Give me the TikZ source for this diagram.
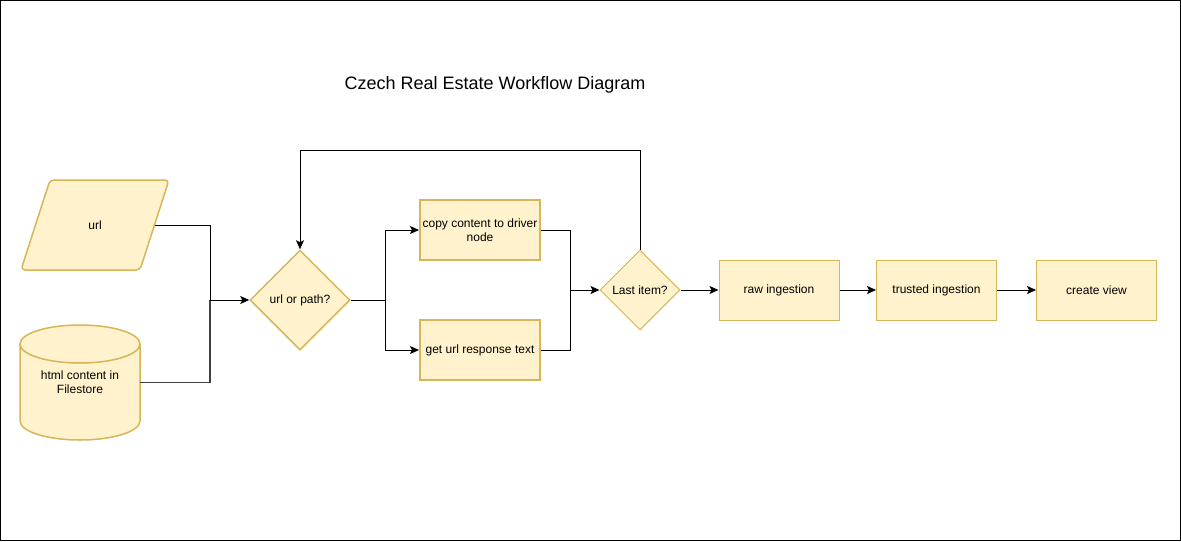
\documentclass[tikz,border=0pt]{standalone}
\usepackage{fontspec}
\setmainfont{Liberation Sans}
\usetikzlibrary{shapes.geometric,arrows.meta}
\definecolor{yfill}{HTML}{FFF2CC}
\definecolor{ydraw}{HTML}{D6B656}
\tikzset{
  lbl/.style={font=\fontsize{12}{14}\selectfont, text=black},
  box/.style={draw=ydraw, fill=yfill, line width=1pt, minimum width=120, minimum height=60, inner sep=0, lbl, align=center},
  boxthick/.style={box, line width=2pt},
  dia/.style={diamond, draw=ydraw, fill=yfill, inner sep=0, aspect=1},
  conn/.style={draw=black, line width=1pt},
  arr/.style={conn, -{Stealth[length=9pt,width=8pt,inset=2pt]}},
}
\begin{document}
\begin{tikzpicture}[x=1pt,y=-1pt]
\useasboundingbox (0,0) rectangle (1181,541);
\draw[black, line width=1pt] (0.5,0.5) rectangle (1180,540);
\node[font=\fontsize{18}{21}\selectfont] (title) at (495,85) {Czech Real Estate Workflow Diagram};
% url parallelogram
\draw[draw=ydraw, fill=yfill, line width=1.5pt, rounded corners=4] (50,180) -- (169,180) -- (140,270) -- (21,270) -- cycle;
\node[lbl] (url) at (95,225) {url};
\coordinate (urlr) at (154.5,225);
% cylinder
\draw[draw=ydraw, fill=yfill, line width=1.5pt] (20,344) -- (20,421) arc[start angle=180, end angle=0, x radius=60, y radius=19] -- (140,344) arc[start angle=0, end angle=-180, x radius=60, y radius=19] -- cycle;
\draw[draw=ydraw, line width=1.5pt] (20,344) arc[start angle=180, end angle=0, x radius=60, y radius=19];
\node[lbl, align=center, minimum width=120, minimum height=115, inner sep=0] (db) at (80,382.5) {html content in\\Filestore};
% url or path diamond
\node[dia, line width=1.5pt, minimum width=100, minimum height=100, label={[lbl]center:url or path?}] (d1) at (300,300) {};
% copy / get
\node[boxthick] (copy) at (480,230) {copy content to driver\\node};
\node[boxthick] (get) at (480,350) {get url response text};
% last item
\node[dia, line width=1pt, minimum width=80, minimum height=80, label={[lbl]center:Last item?}] (d2) at (640,290) {};
% right boxes
\node[box] (raw) at (779,290) {raw ingestion};
\node[box] (trusted) at (936.5,290) {trusted ingestion};
\node[box] (view) at (1096.5,290) {create view};
% connectors
\coordinate (j1) at (210,300);
\draw[conn] (urlr) -| (j1);
\draw[conn, draw=black!75, line width=1.2pt] (db.east) -| (j1);
\draw[arr] (j1) -- (d1.west);
\coordinate (j2) at (385,300);
\draw[conn] (d1.east) -- (j2);
\draw[arr] (j2) |- (copy.west);
\draw[arr] (j2) |- (get.west);
\coordinate (j3) at (570,290);
\draw[conn] (copy.east) -| (j3);
\draw[conn] (get.east) -| (j3);
\draw[arr] (j3) -- (d2.west);
\coordinate (loop) at (640,150);
\draw[arr] (d2.north) -- (loop) -| (d1.north);
\draw[arr] (d2.east) -- (raw.west);
\draw[arr] (raw.east) -- (trusted.west);
\draw[arr] (trusted.east) -- (view.west);
\end{tikzpicture}
\end{document}
